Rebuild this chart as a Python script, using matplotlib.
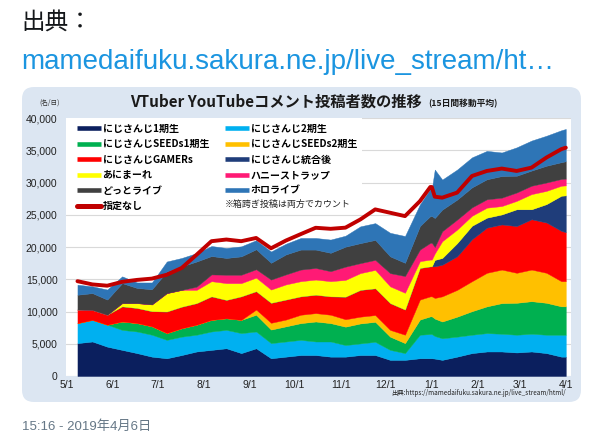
import datetime as dt
import matplotlib
matplotlib.use('Agg')
import matplotlib.pyplot as plt
import matplotlib.dates as mdates
from matplotlib.lines import Line2D
from matplotlib.patches import FancyBboxPatch, Rectangle
from matplotlib.font_manager import FontProperties

JP = ['Noto Sans CJK JP', 'DejaVu Sans']
LAT = ['Liberation Sans', 'Noto Sans CJK JP', 'DejaVu Sans']

# sample dates (2018-05 .. 2019-04)
dates = ['2018-05-08', '2018-05-18', '2018-05-28', '2018-06-07', '2018-06-17', '2018-06-27',
         '2018-07-07', '2018-07-17', '2018-07-27', '2018-08-06', '2018-08-16', '2018-08-26',
         '2018-09-05', '2018-09-15', '2018-09-25', '2018-10-05', '2018-10-15', '2018-10-25',
         '2018-11-04', '2018-11-14', '2018-11-24', '2018-12-04', '2018-12-14', '2018-12-24',
         '2018-12-31', '2019-01-01', '2019-01-03', '2019-01-08', '2019-01-18', '2019-01-28',
         '2019-02-07', '2019-02-17', '2019-02-27', '2019-03-09', '2019-03-19', '2019-03-29',
         '2019-04-01']

gen1 = [5100, 5350, 4550, 4050, 3550, 3000, 2750, 3250, 3800, 4050, 4300, 3550,
        4300, 2750, 3000, 3250, 3250, 3000, 3000, 3250, 3250, 2500, 2500, 2750,
        2750, 2750, 2700, 2500, 3000, 3550, 3800, 3800, 3650, 3800, 3550, 3000, 3000]
gen2 = [3100, 3350, 3400, 3100, 3350, 3400, 2850, 2850, 2600, 2850, 2850, 3100,
        2600, 2350, 2350, 2350, 2100, 2350, 1800, 1800, 2050, 1550, 1050, 3650,
        3750, 3750, 3500, 3350, 3100, 2850, 2850, 2750, 2750, 2750, 2850, 3400, 3400]
seeds1 = [0, 0, 0, 1300, 1300, 1300, 1050, 1300, 1550, 1800, 1800, 2050,
          2600, 2100, 2350, 2600, 3100, 2850, 2850, 3100, 3100, 2050, 1550, 2350,
          2750, 2750, 2700, 2600, 3100, 3650, 4150, 4750, 4950, 5050, 4950, 4400, 4400]
seeds2 = [0, 0, 0, 0, 0, 0, 0, 0, 0, 0, 0, 0,
          800, 1050, 1050, 1300, 1300, 1300, 1150, 1050, 1050, 1050, 1300, 3100,
          3100, 3100, 3200, 3900, 4150, 4650, 5200, 5200, 4650, 4900, 4650, 3900, 3900]
gamers = [2100, 1550, 1550, 2350, 2350, 2350, 3350, 3350, 3350, 3650, 2850, 3650,
          2850, 3100, 3100, 2850, 2850, 2850, 3500, 4150, 4150, 4150, 3900, 4900,
          4650, 4650, 4900, 4900, 5200, 6500, 7000, 7000, 7250, 7800, 7800, 7800, 7600]
merged = [0, 0, 0, 0, 0, 0, 0, 0, 0, 0, 0, 0,
          0, 0, 0, 0, 0, 0, 0, 0, 0, 0, 0, 0,
          0, 0, 1000, 1050, 2050, 2100, 1550, 1550, 2600, 1550, 2850, 5450, 5700]
animare = [0, 0, 0, 500, 750, 1050, 2850, 2600, 2050, 2350, 2600, 2050,
           2100, 2050, 2350, 2350, 2350, 2350, 2600, 2600, 2850, 2600, 2600, 1050,
           1050, 1050, 1000, 2600, 2100, 1550, 1550, 1300, 1300, 2350, 2050, 1550, 1550]
honeystrap = [0, 0, 0, 0, 0, 0, 0, 0, 500, 1050, 1300, 1300,
              1300, 1550, 1550, 1800, 1800, 1550, 2050, 1550, 1550, 2050, 2600, 1800,
              2600, 2600, 1000, 1550, 1550, 1300, 1300, 1300, 1300, 1300, 1300, 1050, 1050]
dotlive = [2300, 2600, 2350, 3100, 2350, 2350, 3350, 3650, 3900, 2850, 2600, 2850,
           3100, 2600, 3100, 3100, 2850, 2850, 3100, 3100, 3100, 2600, 2050, 3650,
           4150, 4150, 4500, 3350, 3100, 3100, 3100, 3350, 2600, 2350, 2600, 2600, 2700]
hololive = [1550, 1050, 1550, 1050, 850, 1050, 1550, 1300, 1300, 1550, 1550, 1550,
            1400, 1750, 1650, 1800, 1800, 2050, 1700, 2600, 2600, 3650, 4150, 3350,
            4200, 4200, 7500, 4650, 4650, 4650, 4400, 3650, 4400, 4650, 4650, 4950, 5000]
unspecified = [14700, 14200, 14000, 14600, 14900, 15100, 15700, 16750, 18800, 20900, 21160, 20900,
               21400, 19800, 21000, 22000, 22980, 22820, 23000, 24270, 25830, 25310, 24790, 27100,
               29300, 29300, 27800, 27650, 28430, 31010, 31790, 32160, 31790, 32310, 33870, 35170, 35400]

series_labels = ['にじさんじ1期生', 'にじさんじ2期生', 'にじさんじSEEDs1期生', 'にじさんじSEEDs2期生',
                 'にじさんじGAMERs', 'にじさんじ統合後', 'あにまーれ', 'ハニーストラップ',
                 'どっとライブ', 'ホロライブ']
series_colors = ['#0b1f5e', '#00b0f0', '#00b050', '#ffc000', '#ff0000',
                 '#1f3d7a', '#ffff00', '#ff1a75', '#404040', '#2e75b6']
line_label = '指定なし'
line_color = '#c00000'

month_ticks = ['2018-05-01', '2018-06-01', '2018-07-01', '2018-08-01', '2018-09-01', '2018-10-01',
               '2018-11-01', '2018-12-01', '2019-01-01', '2019-02-01', '2019-03-01', '2019-04-01']
month_labels = ['5/1', '6/1', '7/1', '8/1', '9/1', '10/1', '11/1', '12/1', '1/1', '2/1', '3/1', '4/1']

x = [dt.datetime.strptime(d, '%Y-%m-%d') for d in dates]
series = [gen1, gen2, seeds1, seeds2, gamers, merged, animare, honeystrap, dotlive, hololive]

fig = plt.figure(figsize=(6.03, 4.40), dpi=100)
fig.patch.set_facecolor('white')

# background layer in pixel coordinates
bg = fig.add_axes([0, 0, 1, 1])
bg.set_xlim(0, 603)
bg.set_ylim(440, 0)
bg.axis('off')
bg.add_patch(FancyBboxPatch((22, 87), 559, 315, boxstyle='round,pad=0,rounding_size=12',
                            fc='#dce6f2', ec='none'))
bg.text(21, 22, '出典：', fontsize=17, family=JP, va='center', color='#14171a')
bg.text(21, 62, 'mamedaifuku.sakura.ne.jp/live_stream/ht…', fontsize=20, family=LAT,
        va='center', color='#1b95e0')
bg.text(22, 427, '15:16 - 2019年4月6日', fontsize=9.5, family=LAT, va='center', color='#657786')
bg.text(130, 102, 'VTuber YouTubeコメント投稿者数の推移', fontsize=11, weight='bold',
        family=JP, va='center', color='#1a1a1a')
bg.text(428, 104, '(15日間移動平均)', fontsize=6.3, weight='bold', family=JP, va='center',
        color='#1a1a1a')
bg.text(50, 103, '(名/日)', fontsize=4.8, family=JP, va='center', ha='center', color='#333333')
bg.text(566, 393, '出典:https://mamedaifuku.sakura.ne.jp/live_stream/html/', fontsize=4.6,
        family=JP, va='center', ha='right', color='#222222')

ax = fig.add_axes([66 / 603, 64 / 440, 505 / 603, 258 / 440])
ax.set_facecolor('white')
start = dt.datetime(2018, 5, 1)
ax.set_xlim(mdates.date2num(start - dt.timedelta(days=0.7)),
            mdates.date2num(start + dt.timedelta(days=338.5)))
ax.set_ylim(0, 40000)

ax.stackplot(x, *series, colors=series_colors, linewidth=0.3, edgecolor='face', zorder=1)
ax.plot(x, unspecified, color=line_color, lw=2.8, solid_joinstyle='round',
        solid_capstyle='round', zorder=3)

ax.set_yticks(range(0, 40001, 5000))
ax.set_yticklabels([f'{v:,}' for v in range(0, 40001, 5000)], family=LAT)
ax.set_xticks([mdates.date2num(dt.datetime.strptime(d, '%Y-%m-%d')) for d in month_ticks])
ax.set_xticklabels(month_labels, family=LAT)
ax.tick_params(length=0, labelsize=7.5, colors='#222222')
ax.tick_params(axis='y', pad=6)
ax.tick_params(axis='x', pad=3)
ax.yaxis.grid(True, color='#d9d9d9', lw=0.8)
ax.set_axisbelow(True)
for s in ax.spines.values():
    s.set_visible(False)

# white legend panel
ax.add_patch(Rectangle((0, 0.632), 0.586, 0.368, transform=ax.transAxes,
                       fc='white', ec='none', zorder=4))

handles = []
for c in series_colors:
    handles.append(Line2D([], [], color=c, lw=3.3, solid_capstyle='butt'))
line_handle = Line2D([], [], color=line_color, lw=3.6, solid_capstyle='round')
order = [0, 2, 4, 6, 8, 1, 3, 5, 7, 9]
leg_handles = [handles[i] for i in order[:5]] + [line_handle] + [handles[i] for i in order[5:]]
leg_labels = [series_labels[i] for i in order[:5]] + [line_label] + [series_labels[i] for i in order[5:]]
leg = ax.legend(leg_handles, leg_labels, ncol=2, loc='upper left', bbox_to_anchor=(0.0218, 0.978),
                frameon=False, prop=FontProperties(family=JP, weight='bold', size=7.2),
                handlelength=2.4, handletextpad=0.15, columnspacing=1.6, labelspacing=0.55,
                borderpad=0, borderaxespad=0)
leg.set_zorder(5)

fig.text(225 / 603, 1 - 204 / 440, '※箱跨ぎ投稿は両方でカウント', fontsize=6.5, family=JP,
         va='center', color='#222222', zorder=6)

fig.savefig('out.png', dpi=100)
